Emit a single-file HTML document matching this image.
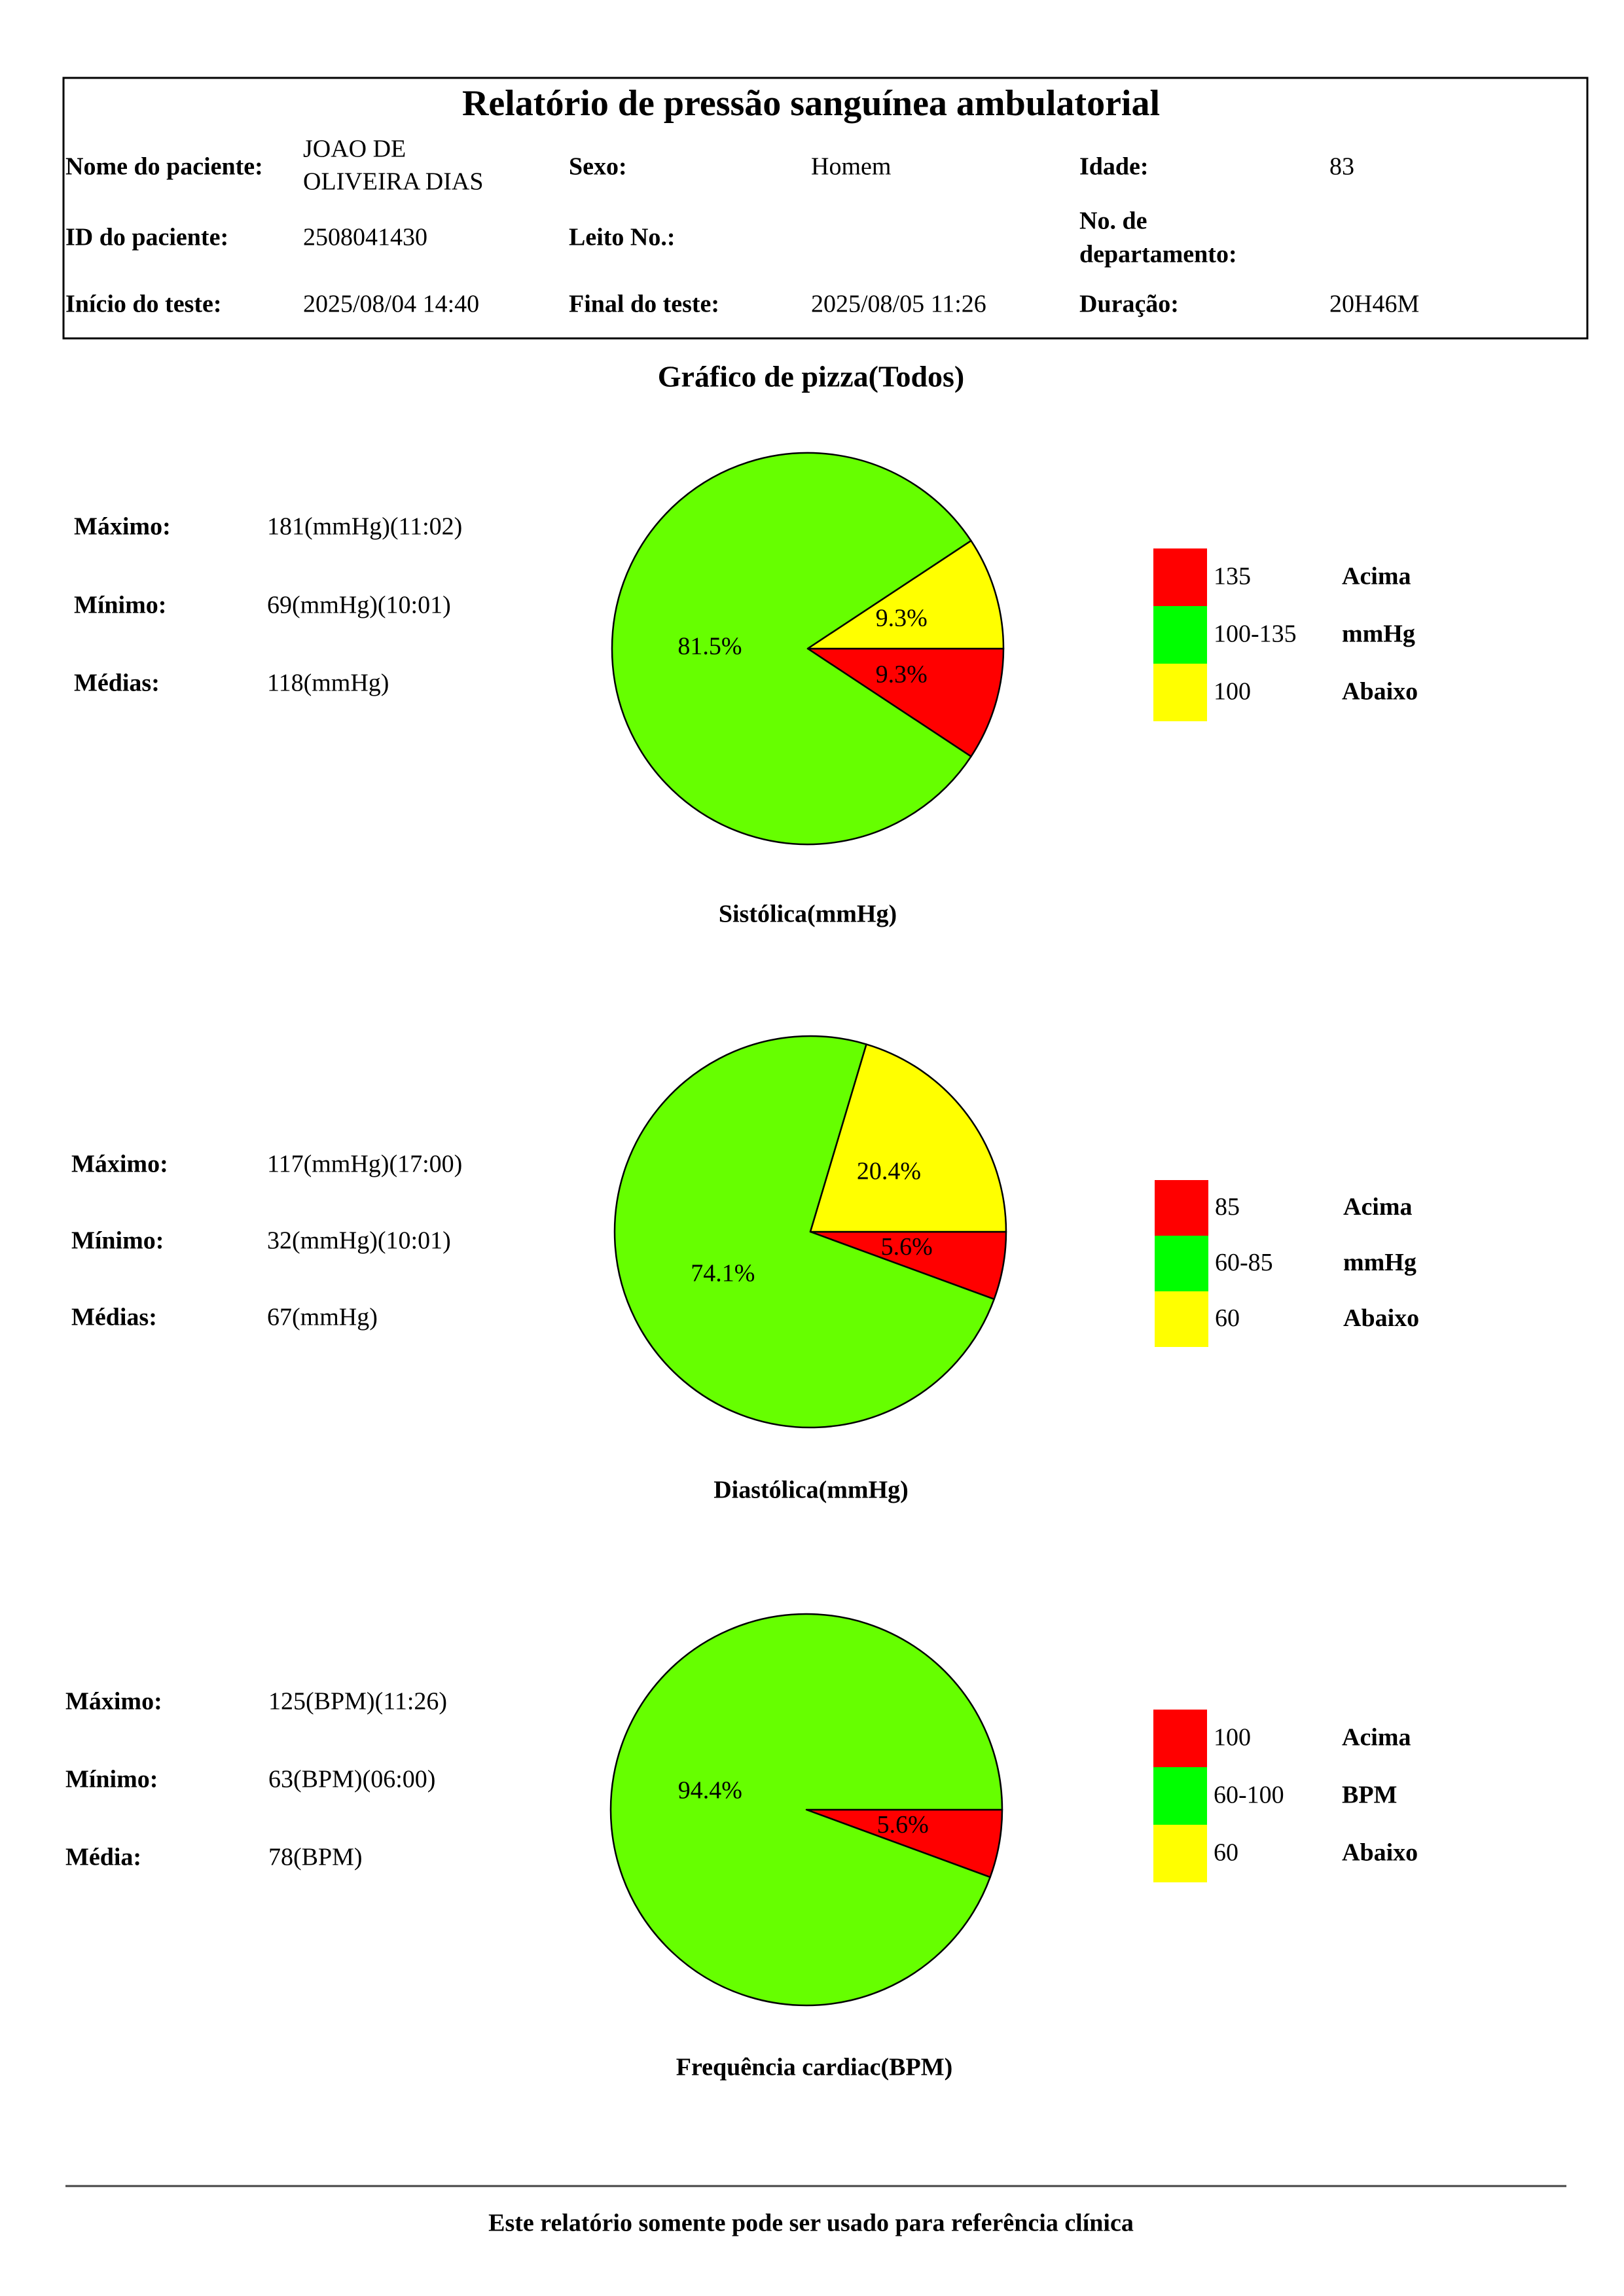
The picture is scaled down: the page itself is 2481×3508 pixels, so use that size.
<!DOCTYPE html>
<html><head><meta charset="utf-8"><style>
html,body{margin:0;padding:0;background:#fff}
svg{display:block}
text{font-family:"Liberation Serif",serif;fill:#000;dominant-baseline:middle}
.b{font-weight:bold}
.h{font-size:38px}
</style></head><body>
<svg id="page" width="2481" height="3508" viewBox="0 0 2481 3508" xmlns="http://www.w3.org/2000/svg">
<rect x="97" y="119" width="2328" height="398" fill="none" stroke="#000" stroke-width="3"/>
<text x="1239" y="163" text-anchor="middle" class="b" font-size="56">Relatório de pressão sanguínea ambulatorial</text>
<g class="h">
<text x="100" y="258" class="b h">Nome do paciente:</text>
<text x="463" y="231" class="h">JOAO DE</text>
<text x="463" y="281" class="h">OLIVEIRA DIAS</text>
<text x="869" y="258" class="b h">Sexo:</text>
<text x="1239" y="258" class="h">Homem</text>
<text x="1649" y="258" class="b h">Idade:</text>
<text x="2031" y="258" class="h">83</text>
<text x="100" y="366" class="b h">ID do paciente:</text>
<text x="463" y="366" class="h">2508041430</text>
<text x="869" y="366" class="b h">Leito No.:</text>
<text x="1649" y="341" class="b h">No. de</text>
<text x="1649" y="392" class="b h">departamento:</text>
<text x="100" y="468" class="b h">Início do teste:</text>
<text x="463" y="468" class="h">2025/08/04 14:40</text>
<text x="869" y="468" class="b h">Final do teste:</text>
<text x="1239" y="468" class="h">2025/08/05 11:26</text>
<text x="1649" y="468" class="b h">Duração:</text>
<text x="2031" y="468" class="h">20H46M</text>
</g>
<text x="1239" y="580" text-anchor="middle" class="b" font-size="46">Gráfico de pizza(Todos)</text>

<g>
<text x="113" y="808" class="b h">Máximo:</text>
<text x="408" y="808" class="h">181(mmHg)(11:02)</text>
<text x="113" y="928" class="b h">Mínimo:</text>
<text x="408" y="928" class="h">69(mmHg)(10:01)</text>
<text x="113" y="1047" class="b h">Médias:</text>
<text x="408" y="1047" class="h">118(mmHg)</text>
</g>
<g>
<text x="109" y="1782" class="b h">Máximo:</text>
<text x="408" y="1782" class="h">117(mmHg)(17:00)</text>
<text x="109" y="1899" class="b h">Mínimo:</text>
<text x="408" y="1899" class="h">32(mmHg)(10:01)</text>
<text x="109" y="2016" class="b h">Médias:</text>
<text x="408" y="2016" class="h">67(mmHg)</text>
</g>
<g>
<text x="100" y="2603" class="b h">Máximo:</text>
<text x="410" y="2603" class="h">125(BPM)(11:26)</text>
<text x="100" y="2722" class="b h">Mínimo:</text>
<text x="410" y="2722" class="h">63(BPM)(06:00)</text>
<text x="100" y="2841" class="b h">Média:</text>
<text x="410" y="2841" class="h">78(BPM)</text>
</g>

<text x="1234" y="1400" text-anchor="middle" class="b h">Sistólica(mmHg)</text>
<text x="1239" y="2280" text-anchor="middle" class="b h">Diastólica(mmHg)</text>
<text x="1244" y="3162" text-anchor="middle" class="b h">Frequência cardiac(BPM)</text>

<g id="charts"></g>

<line x1="100" y1="3340" x2="2393" y2="3340" stroke="#444" stroke-width="3"/>
<text x="1239" y="3400" text-anchor="middle" class="b h">Este relatório somente pode ser usado para referência clínica</text>
</svg>
<script>
// Slice percentages, order: red (above), green (normal), yellow (below)
const sliceNames = ["acima", "normal", "abaixo"];
const systolicValues = [9.3, 81.5, 9.3];
const diastolicValues = [5.6, 74.1, 20.4];
const heartRateValues = [5.6, 94.4, 0];
const systolicLegend = ["135", "100-135", "100"];
const diastolicLegend = ["85", "60-85", "60"];
const heartRateLegend = ["100", "60-100", "60"];
const systolicLabels = ["Acima", "mmHg", "Abaixo"];
const diastolicLabels = ["Acima", "mmHg", "Abaixo"];
const heartRateLabels = ["Acima", "BPM", "Abaixo"];

const NS = "http://www.w3.org/2000/svg";
const pieColors = ["#ff0000", "#66ff00", "#ffff00"];
const legendColors = ["#ff0000", "#00ff00", "#ffff00"];
const root = document.getElementById("charts");

function mk(tag, attrs, parent) {
  const e = document.createElementNS(NS, tag);
  for (const k in attrs) e.setAttribute(k, attrs[k]);
  parent.appendChild(e);
  return e;
}

function drawPie(id, values, cx, cy, r) {
  const g = mk("g", {}, root);
  
  
  const total = values.reduce((a, b) => a + b, 0);
  let a0 = 0;
  values.forEach((v, i) => {
    if (v <= 0) return;
    const a1 = a0 + v / total * 2 * Math.PI;
    let el;
    if (v >= total - 1e-9) {
      el = mk("circle", {cx: cx, cy: cy, r: r, fill: pieColors[i], stroke: "#000", "stroke-width": 2.5}, g);
    } else {
      const x0 = cx + r * Math.cos(a0), y0 = cy + r * Math.sin(a0);
      const x1 = cx + r * Math.cos(a1), y1 = cy + r * Math.sin(a1);
      const large = (a1 - a0) > Math.PI ? 1 : 0;
      el = mk("path", {d: `M${cx},${cy} L${x0},${y0} A${r},${r} 0 ${large} 1 ${x1},${y1} Z`, fill: pieColors[i], stroke: "#000", "stroke-width": 2.5, "stroke-linejoin": "round"}, g);
    }
    
    
    const am = (a0 + a1) / 2;
    const t = mk("text", {x: cx + r * 0.5 * Math.cos(am), y: cy + r * 0.5 * Math.sin(am), "text-anchor": "middle", "font-size": 38}, g);
    t.textContent = v.toFixed(1) + "%";
    
    
    a0 = a1;
  });
}

function drawLegend(id, ranges, labels, x, y, h) {
  const g = mk("g", {}, root);
  
  
  ranges.forEach((rg, i) => {
    const yy = y + i * h;
    const sw = mk("rect", {x: x, y: yy, width: 82, height: h, fill: legendColors[i]}, g);
    
    
    const t1 = mk("text", {x: x + 92, y: yy + h / 2 + 2, "font-size": 38}, g);
    t1.textContent = rg;
    
    
    const t2 = mk("text", {x: x + 288, y: yy + h / 2 + 2, "font-size": 38, "font-weight": "bold"}, g);
    t2.textContent = labels[i];
    
    
  });
}

drawPie("systolic", systolicValues, 1234, 991, 299);
drawPie("diastolic", diastolicValues, 1238, 1882, 299);
drawPie("heart-rate", heartRateValues, 1232, 2765, 299);
drawLegend("systolic", systolicLegend, systolicLabels, 1762, 838, 88);
drawLegend("diastolic", diastolicLegend, diastolicLabels, 1764, 1803, 85);
drawLegend("heart-rate", heartRateLegend, heartRateLabels, 1762, 2612, 88);
</script>
</body></html>
